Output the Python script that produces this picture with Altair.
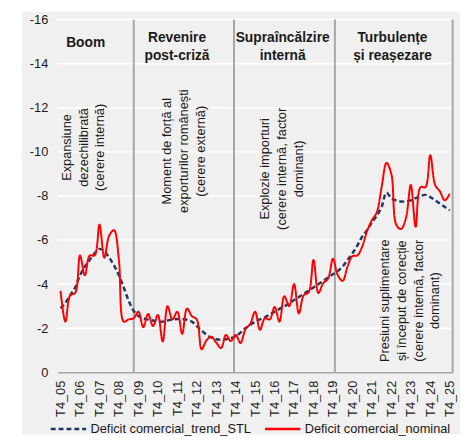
import altair as alt
import pandas as pd

# ---------------- data ----------------
quarters = ["T4_05"] + [f"T{q}_{y:02d}" for y in range(6, 26) for q in (1, 2, 3, 4)]
tick_labels = [f"T4_{y:02d}" for y in range(5, 26)]
series_names = ["Deficit comercial_trend_STL", "Deficit comercial_nominal"]

nominal = [
    -3.7, -2.3, -3.5, -3.6, -5.3, -4.4, -5.3, -5.3, -6.7, -5.2,
    -6.2, -6.45, -5.1, -2.3, -2.4, -2.45, -2.75, -2.05, -2.65, -2.1,
    -2.6, -1.4, -3.0, -2.4, -2.75, -1.75, -2.9, -2.55, -2.4, -1.05,
    -1.45, -1.62, -1.35, -1.1, -1.7, -1.42, -1.7, -1.33, -1.95, -2.2,
    -2.75, -1.93, -2.45, -2.4, -2.97, -2.3, -3.45, -3.0, -4.0, -2.67,
    -3.5, -3.63, -5.1, -3.6, -4.05, -4.25, -5.15, -4.4, -4.15, -4.8,
    -5.27, -5.3, -5.7, -6.4, -6.9, -7.25, -8.4, -9.5, -9.0, -6.7,
    -6.5, -7.0, -8.5, -6.6, -8.4, -8.4, -9.85, -8.5, -8.2, -7.8,
    -8.1,
]
trend = [
    -2.9, -3.15, -3.5, -3.85, -4.4, -4.8, -5.1, -5.4, -5.6, -5.5,
    -5.2, -4.85, -4.4, -3.85, -3.25, -2.8, -2.55, -2.45, -2.4, -2.35,
    -2.3, -2.3, -2.35, -2.4, -2.42, -2.42, -2.38, -2.3, -2.1, -1.9,
    -1.7, -1.58, -1.5, -1.48, -1.5, -1.55, -1.63, -1.8, -2.0, -2.15,
    -2.3, -2.4, -2.5, -2.62, -2.75, -2.88, -3.0, -3.12, -3.28, -3.42,
    -3.56, -3.7, -3.85, -4.0, -4.15, -4.3, -4.45, -4.6, -4.8, -5.1,
    -5.4, -5.75, -6.15, -6.45, -6.8, -7.1, -7.5, -8.15, -7.9, -7.8,
    -7.75, -7.75, -7.8, -7.9, -8.0, -8.05, -7.95, -7.8, -7.65, -7.5,
    -7.35,
]

y_ticks = list(range(-16, 1, 2))
grid_values = [-16, -14, -12, -10, -8, -6, -4, -2]
separators = [15.05, 35.66, 56.4, 80.6]

headings = ["Boom", "Revenire\npost-criză", "Supraîncălzire\ninternă", "Turbulențe\nși reașezare"]
heading_x = [5.16, 23.94, 45.66, 68.24]
heading_y = [-14.93, -15.15, -15.15, -15.15]

notes = [
    "Expansiune\ndezechilibrată\n(cerere internă)",
    "Moment de forță al\nexporturilor românești\n(cerere externă)",
    "Explozie importuri\n(cerere internă, factor\ndominant)",
    "Presiuni suplimentare\nși început de corecție\n(cerere internă, factor\ndominant)",
]
note_x = [1.32, 21.92, 42.12, 66.76]
note_y = [-10.2, -10.03, -9.23, -3.25]

# ---------------- frames ----------------
n = len(quarters)
df_lines = pd.DataFrame({
    "idx": list(range(n)) * 2,
    "quarter": quarters * 2,
    "value": trend + nominal,
    "series": [series_names[0]] * n + [series_names[1]] * n,
})
df_grid = pd.DataFrame({"value": grid_values})
df_sep = pd.DataFrame({"idx": separators})
df_head = pd.DataFrame({"idx": heading_x, "value": heading_y, "label": headings})
df_note = pd.DataFrame({"idx": note_x, "value": note_y, "label": notes})

# ---------------- styling ----------------
BG = "#f0f0f0"
TXT = "#1a1a1a"
W, H = 402, 359
PAD_R = 7.5

label_array = "[" + ",".join(f"'{t}'" for t in tick_labels) + "]"

x_axis = alt.Axis(
    values=list(range(0, n, 4)),
    labelExpr=label_array + "[round(datum.value/4)]",
    labelAngle=270, ticks=False, grid=False,
    domainColor="#a6a6a6", domainWidth=1.5,
    labelPadding=8, labelFontSize=13, labelColor=TXT,
    title=None, zindex=1,
)
y_axis = alt.Axis(
    values=y_ticks,
    labelExpr="datum.value == 0 ? '0' : '-' + abs(datum.value)",
    domain=False, ticks=False, grid=False,
    labelPadding=10, labelFontSize=13, labelColor=TXT,
    title=None, zindex=1,
)
x_scale = alt.Scale(domain=[-0.6, 80.6], nice=False, zero=False)
y_scale = alt.Scale(domain=[-16, 0], reverse=True, nice=False)

X = alt.X("idx:Q", scale=x_scale, axis=x_axis)
Y = alt.Y("value:Q", scale=y_scale, axis=y_axis)

legend = alt.Legend(
    title=None, orient="none", direction="horizontal",
    legendX=-8.5, legendY=397,
    symbolType="stroke", symbolSize=1296, symbolStrokeWidth=2.5,
    labelFontSize=13, labelColor=TXT, labelOffset=3, columnPadding=8,
    labelLimit=400, zindex=1,
)
color = alt.Color("series:N", scale=alt.Scale(domain=series_names, range=["#1f3864", "#ff0000"]), legend=legend)
dash = alt.StrokeDash("series:N", scale=alt.Scale(domain=series_names, range=[[5, 3], [1, 0]]), legend=legend)

# ---------------- layers ----------------
bg = alt.Chart(pd.DataFrame({"a": [0]})).mark_rect(color=BG).encode(
    x=alt.value(-36.5), x2=alt.value(W + PAD_R), y=alt.value(-8), y2=alt.value(422)
)
grid = alt.Chart(df_grid).mark_rule(color="white", strokeWidth=1.5).encode(y=Y)
seps = alt.Chart(df_sep).mark_rule(color="#a6a6a6", strokeWidth=2).encode(x=X)

trend_line = alt.Chart(df_lines).transform_filter(
    alt.datum.series == series_names[0]
).mark_line(strokeWidth=2.5, interpolate="catmull-rom").encode(x=X, y=Y, color=color, strokeDash=dash)

nominal_line = alt.Chart(df_lines).transform_filter(
    alt.datum.series == series_names[1]
).mark_line(strokeWidth=2, interpolate="catmull-rom").encode(x=X, y=Y, color=color, strokeDash=dash)

heads = alt.Chart(df_head).mark_text(
    fontSize=14, fontWeight="bold", lineBreak="\n", lineHeight=18,
    align="center", baseline="middle", color=TXT,
).encode(x=X, y=Y, text="label:N")

note_txt = alt.Chart(df_note).mark_text(
    fontSize=13, lineBreak="\n", lineHeight=17, angle=270,
    align="center", baseline="middle", color=TXT,
).encode(x=X, y=Y, text="label:N")

chart = alt.layer(bg, grid, seps, trend_line, nominal_line, heads, note_txt).properties(
    width=W, height=H,
    autosize=alt.AutoSizeParams(type="none"),
    padding={"left": 50.5, "top": 8, "right": PAD_R, "bottom": 63},
    background="white",
).configure(font="Liberation Sans").configure_view(strokeWidth=0)

chart.save("out.html", embed_options={"renderer": "svg", "actions": False})
